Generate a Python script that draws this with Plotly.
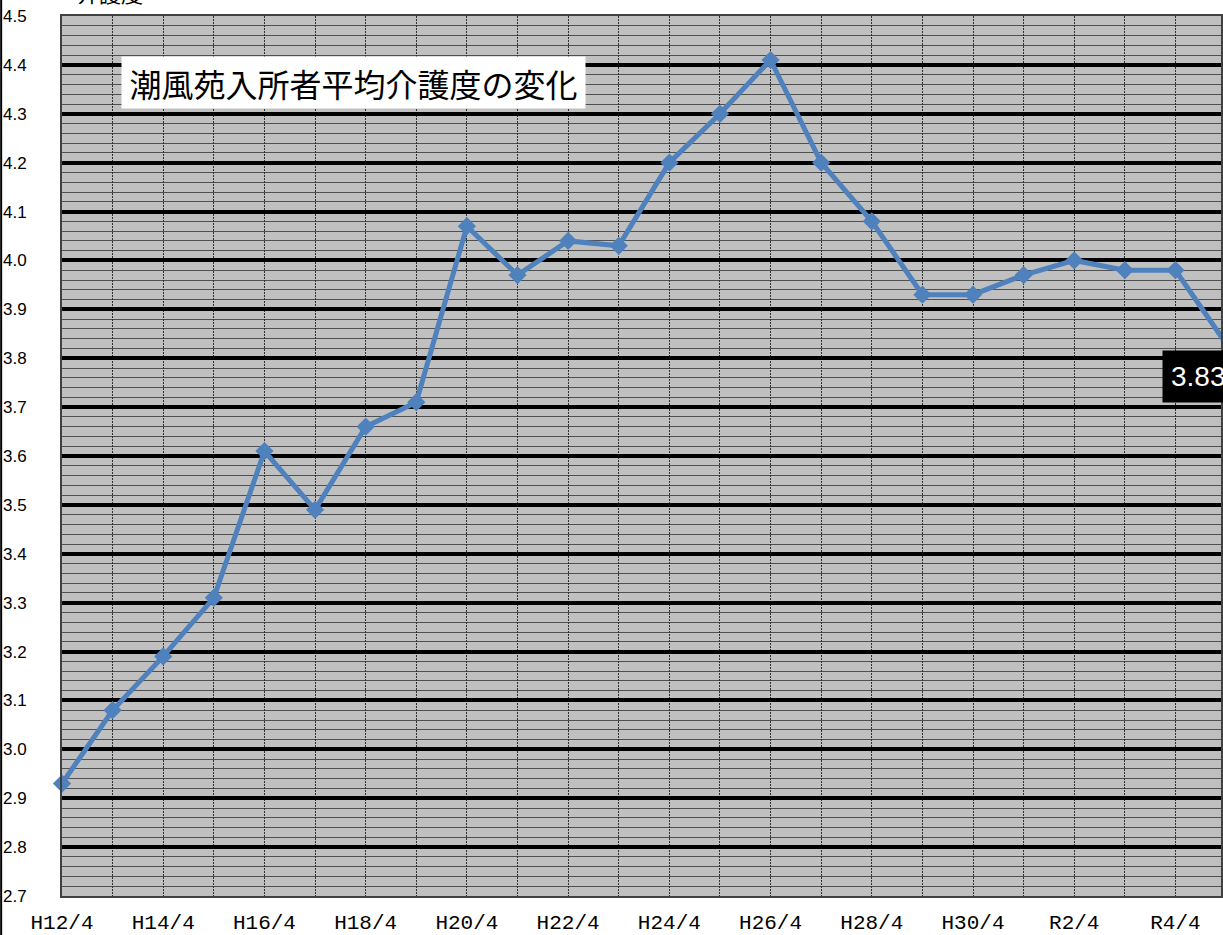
import plotly.graph_objects as go

categories = ["H12/4", "H13/4", "H14/4", "H15/4", "H16/4", "H17/4", "H18/4", "H19/4",
              "H20/4", "H21/4", "H22/4", "H23/4", "H24/4", "H25/4", "H26/4", "H27/4",
              "H28/4", "H29/4", "H30/4", "H31/4", "R2/4", "R3/4", "R4/4", "R5/4"]
care_level = [2.93, 3.08, 3.19, 3.31, 3.61, 3.49, 3.66, 3.71,
              4.07, 3.97, 4.04, 4.03, 4.20, 4.30, 4.41, 4.20,
              4.08, 3.93, 3.93, 3.97, 4.00, 3.98, 3.98, 3.83]
tick_labels = [c if i % 2 == 0 else "" for i, c in enumerate(categories)]
y_ticks = [round(2.7 + 0.1 * i, 1) for i in range(19)]

title_text = "潮風苑入所者平均介護度の変化"
y_axis_title = "介護度"

blue = "#4F81BD"

fig = go.Figure()
fig.add_trace(go.Scatter(
    x=categories, y=care_level, mode="lines+markers",
    line=dict(color=blue, width=5),
    marker=dict(symbol="diamond", size=14, color=blue),
    cliponaxis=False, showlegend=False, hoverinfo="skip",
))

fig.add_annotation(
    x=0.9492, y=0.5902, xref="paper", yref="paper",
    text=f"{care_level[-1]:.2f}", showarrow=False,
    xanchor="left", yanchor="middle", align="left",
    font=dict(family="Liberation Sans", size=28, color="white"),
    bgcolor="black", borderpad=8, height=35,
)

fig.add_annotation(
    x=0.2519, y=0.9246, xref="paper", yref="paper",
    text=title_text, showarrow=False,
    font=dict(family="Noto Sans CJK JP", size=32, color="black"),
    bgcolor="white", width=457, height=45, borderpad=3,
    xanchor="center", yanchor="middle",
)

fig.add_annotation(
    x=0.0413, y=1.0272, xref="paper", yref="paper",
    text=y_axis_title, showarrow=False,
    font=dict(family="Noto Sans CJK JP", size=22, color="black"),
    xanchor="center", yanchor="middle",
)

fig.add_shape(type="line", xref="paper", yref="paper",
              x0=-0.0525, x1=-0.0525, y0=-0.05, y1=1.03,
              line=dict(color="black", width=2))

fig.update_layout(
    width=1223, height=935,
    margin=dict(l=62, r=0, t=16, b=37),
    paper_bgcolor="white", plot_bgcolor="#C0C0C0",
    xaxis=dict(
        type="category", range=[0, 22.9],
        tickmode="array", tickvals=categories, ticktext=tick_labels,
        showgrid=True, gridcolor="#303030", gridwidth=1, griddash="2px,1px",
        showline=True, linecolor="#404040", linewidth=2, mirror=True,
        ticks="", ticklabelstandoff=6,
        tickfont=dict(family="Liberation Mono", size=21, color="black"),
        zeroline=False, fixedrange=True,
    ),
    yaxis=dict(
        range=[2.7, 4.5], tickmode="array", tickvals=y_ticks, tickformat=".1f",
        showgrid=True, gridcolor="black", gridwidth=4,
        minor=dict(dtick=0.02, tick0=2.7, showgrid=True, gridcolor="#505050", gridwidth=1),
        showline=True, linecolor="#404040", linewidth=2, mirror=True,
        ticks="", ticklabelstandoff=30,
        tickfont=dict(family="Liberation Sans", size=17, color="black"),
        zeroline=False, fixedrange=True,
    ),
)

fig.write_html("out.html", config={"displayModeBar": False},
               post_script="document.body.style.margin='0px';")
